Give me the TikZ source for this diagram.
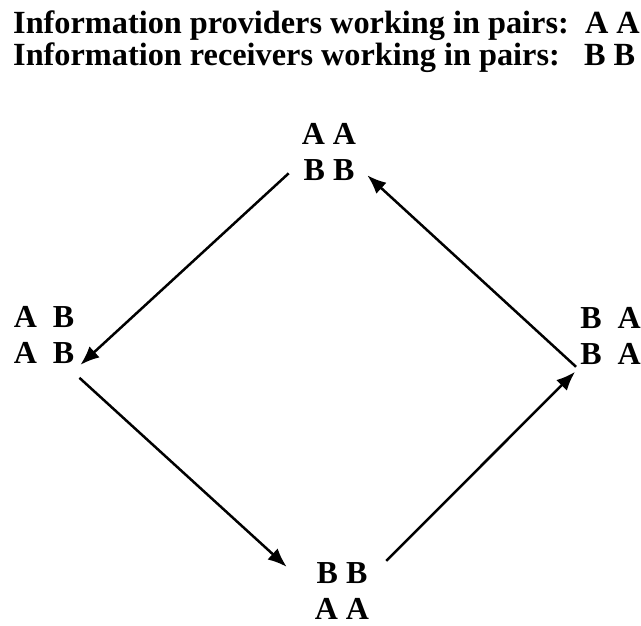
\documentclass[tikz,border=0pt]{standalone}
\usepackage{fontspec}
\setmainfont{Liberation Serif}
\usetikzlibrary{arrows.meta}
\usetikzlibrary{positioning}
\usetikzlibrary{calc}
\tikzstyle{every node}+=[inner sep=0pt]
\tikzstyle{pair} = [font=\fontsize{32}{36}\selectfont\bfseries, align=center]
\tikzstyle{heading} = [font=\fontsize{32.3}{36}\selectfont\bfseries, anchor=base west]
\tikzstyle{line} = [draw, line width=2.5pt, -{Latex[length=19pt, width=15pt]}]

\begin{document}
\begin{tikzpicture}[x=1pt, y=-1pt]
            \useasboundingbox (0,0) rectangle (641,625);
            % Place nodes
            \node [heading] (prov) at (13,33) {Information providers working in pairs:\ \ A A};
            \node [heading] (recv) at (13,65) {Information receivers working in pairs:\ \ \ B B};
            \node [pair] (top) at (329,151.5) {A A\\B B};
            \node [pair] (left) at (44,335) {A\ \ B\\A\ \ B};
            \node [pair] (right) at (610.5,336) {B\ \ A\\B\ \ A};
            \node [pair] (bottom) at (342,591.5) {B B\\A A};
            % Draw edges
            \path [line] ($(top.south west)+(-13,-7)$) -- ($(left.south east)+(6,1)$);
            \path [line] ($(left.south east)+(5,14)$) -- ($(bottom.north west)+(-28,4)$);
            \path [line] ($(bottom.north east)+(17,-2)$) -- ($(right.south west)+(-5,7)$);
            \path [line] ($(right.south west)+(-4,2)$) -- ($(top.south east)+(11,-5)$);
          \end{tikzpicture}
\end{document}
